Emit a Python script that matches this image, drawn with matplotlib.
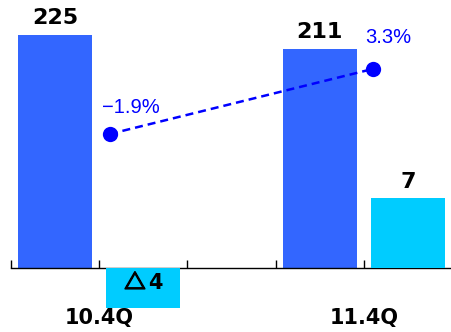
import numpy as np
import matplotlib
matplotlib.use('Agg')
import matplotlib.pyplot as plt
import matplotlib.patheffects as pe

plt.rcParams['font.family'] = ['DejaVu Sans']

blu = '#3366ff'   # sales bars
cya = '#00ccff'   # change bars
dot = '#0000ff'   # growth rate

quarters = ['10.4Q', '11.4Q']
sales = [225, 211]
change = [-4, 7]
growth = [-1.9, 3.3]
growth_lbl = ['\u22121.9%', '3.3%']

# slot positions on the x axis
x_sales = np.array([0, 3])
x_change = np.array([1, 4])
x_growth = np.array([0.62, 3.6])
x_quarter = np.array([0.5, 3.5])

# offsets (points) of the growth labels from their dots
g_off = [(15, 19), (11, 23)]

W, H = 452, 332
fig = plt.figure(figsize=(W/100, H/100), dpi=100)
fig.patch.set_facecolor('w')

# main axis: sales bars
axs = fig.add_axes([11/W, 0, 1 - 11/W, 1])
axs.bar(x_sales, sales, width=0.84, color=blu, zorder=2)
axs.set_xlim(-0.5, 4.5)
axs.set_ylim(-64/1.036, 268/1.036)
for s in ['top', 'left', 'right']:
    axs.spines[s].set_visible(False)
axs.spines['bottom'].set_position(('data', 0))
axs.spines['bottom'].set_linewidth(1.0)
axs.set_xticks(np.arange(-0.5, 4.0, 1.0))
axs.set_xticklabels([])
axs.tick_params(axis='x', direction='in', length=6, width=1.0)
axs.set_yticks([])
for xi, v in zip(x_sales, sales):
    axs.annotate(str(v), (xi, v), xytext=(0, 5), textcoords='offset points',
                 ha='center', va='bottom', fontsize=16, fontweight='bold',
                 color='k')

# second scale: change bars
ax2 = axs.twinx()
ax2.set_ylim(-6.4, 26.8)
ax2.bar(x_change, change, width=0.84, color=cya, zorder=2)
ax2.axis('off')
for xi, v in zip(x_change, change):
    if v < 0:
        # negative values are written with a triangle instead of a minus
        ax2.annotate('△', (xi, -1.5), xytext=(-6, 0), textcoords='offset points',
                     ha='center', va='center', fontsize=15, color='k',
                     family=['Noto Sans CJK JP', 'DejaVu Sans'],
                     path_effects=[pe.withStroke(linewidth=1.2, foreground='k')])
        ax2.annotate(str(-v), (xi, -1.5), xytext=(9, 0), textcoords='offset points',
                     ha='center', va='center', fontsize=15,
                     fontweight='bold', color='k')
    else:
        ax2.annotate(str(v), (xi, v), xytext=(0, 4), textcoords='offset points',
                     ha='center', va='bottom', fontsize=16,
                     fontweight='bold', color='k')

# third scale: growth rate
ax3 = axs.twinx()
ax3.set_ylim(-221.75/12.5, 110.25/12.5)
ax3.plot(x_growth, growth, '--', color=dot, lw=1.8, dashes=(3.2, 2.0))
ax3.plot(x_growth, growth, 'o', color=dot, ms=11, mew=0)
ax3.axis('off')
for xi, v, lb, off in zip(x_growth, growth, growth_lbl, g_off):
    ax3.annotate(lb, (xi, v), xytext=off, textcoords='offset points',
                 ha='center', va='center', fontsize=14.5, color=dot,
                 family=['Liberation Sans', 'DejaVu Sans'])

# quarter labels under the axis
for xi, q in zip(x_quarter, quarters):
    axs.text(xi, -50/1.036, q, ha='center', va='center',
             fontsize=15, fontweight='bold', color='k')

fig.savefig('out.png', dpi=100, facecolor='w')
